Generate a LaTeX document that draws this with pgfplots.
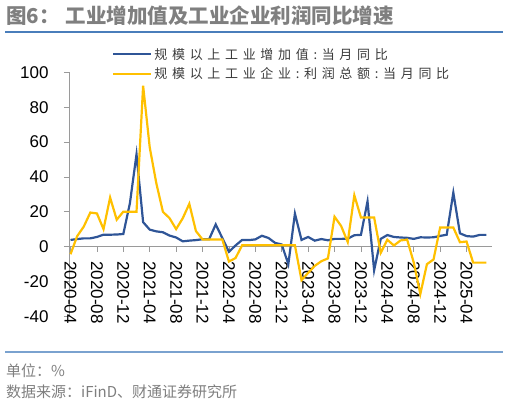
\documentclass[border=0pt]{standalone}
\usepackage{fontspec}
\setmainfont{Liberation Sans}
\newfontfamily\cjk{Noto Sans CJK SC}
\newfontfamily\cjkls[LetterSpace=36]{Noto Sans CJK SC}
\usepackage{pgfplots}
\usepackage{pgfplotstable}
\pgfplotsset{compat=1.18}

\definecolor{ivablue}{HTML}{2F5597}
\definecolor{profityellow}{HTML}{FFC000}
\definecolor{titlegray}{HTML}{7F7F7F}
\definecolor{ruleblue}{HTML}{4A7EBB}
\definecolor{footblue}{HTML}{7AA2CF}
\definecolor{axisgray}{HTML}{9A9A9A}
\definecolor{legendtext}{HTML}{3A3A3A}

% month index (0 = 2020-04), IVA yoy, profit yoy
\pgfplotstableread{
i   iva    profit
0   3.9    -4.3
1   4.4    6.0
2   4.8    11.5
3   4.8    19.6
4   5.6    19.1
5   6.9    10.1
6   6.9    28.2
7   7.0    15.5
8   7.3    20.1
9   25.0   20.1
10  53.0   20.1
11  14.1   92.3
12  9.8    57.0
13  8.8    36.4
14  8.3    20.0
15  6.4    16.4
16  5.3    10.1
17  3.1    16.3
18  3.5    24.6
19  3.8    9.0
20  4.3    4.2
21  4.3    4.2
22  12.8   4.2
23  5.0    4.2
24  -2.9   -8.5
25  0.7    -6.5
26  3.9    0.8
27  3.8    0.8
28  4.2    0.8
29  6.3    0.8
30  5.0    0.8
31  2.2    0.8
32  1.3    0.8
33  -10.0  0.8
34  19.0   0.8
35  3.9    -19.2
36  5.6    -15.0
37  3.5    -11.0
38  4.4    -8.3
39  3.7    -6.7
40  4.5    17.2
41  4.5    11.9
42  4.6    2.7
43  6.6    29.5
44  6.8    16.8
45  26.0   16.8
46  -13.5  16.8
47  4.5    -3.5
48  6.7    4.0
49  5.6    0.7
50  5.3    3.6
51  5.1    4.1
52  4.5    -9.0
53  5.4    -27.1
54  5.3    -10.0
55  5.4    -7.3
56  6.2    11.0
57  6.9    11.0
58  31.0   11.0
59  7.7    2.6
60  6.1    3.0
61  5.8    -9.1
62  6.8    -9.1
63  6.8    -9.1
}\datatable

\begin{document}
\begin{tikzpicture}
\path (0,0) rectangle (509bp,-404bp);

\begin{axis}[
    at={(69bp,-316.5bp)}, anchor=south west,
    scale only axis,
    width=423bp, height=244.2bp,
    xmin=-0.23, xmax=63.86,
    ymin=-40, ymax=100,
    axis x line=middle, axis y line=left,
    axis line style={-, draw=axisgray, line width=0.8bp},
    hide obscured x ticks=false, hide obscured y ticks=false,
    tick align=outside,
    major tick length=5bp,
    tick style={draw=axisgray, line width=0.8bp},
    xtick={0,4,...,60},
    xticklabels={2020-04,2020-08,2020-12,2021-04,2021-08,2021-12,2022-04,2022-08,2022-12,2023-04,2023-08,2023-12,2024-04,2024-08,2024-12,2025-04},
    ytick={-40,-20,...,100},
    /pgf/number format/assume math mode=true,
    ticklabel style={font=\fontsize{17bp}{20bp}\selectfont, text=black},
    xticklabel style={rotate=-90, anchor=west},
    xticklabel shift=6bp,
    yticklabel style={xshift=-12bp},
    legend style={at={(axis description cs:0.1017,1.108)}, anchor=north west,
        draw=none, fill=none, inner sep=0pt, row sep=3bp,
        font=\fontsize{13bp}{15bp}\selectfont\cjkls, text=legendtext,
        cells={anchor=west}},
    legend image code/.code={\draw[#1] (0bp,0bp) -- (38bp,0bp);},
    clip=false,
]
\addplot[color=ivablue, line width=2.2bp] table[x=i, y=iva] {\datatable};
\addlegendentry{规模以上工业增加值:当月同比}
\addplot[color=profityellow, line width=2.2bp] table[x=i, y=profit] {\datatable};
\addlegendentry{规模以上工业企业:利润总额:当月同比}
\end{axis}

\node[anchor=west, inner sep=0pt, text=titlegray] at (6bp,-16bp)
    {\cjk\bfseries\fontsize{20.5bp}{24bp}\selectfont 图6：\hspace{6bp}工业增加值及工业企业利润同比增速};
\draw[ruleblue, line width=1.2bp] (5bp,-32bp) -- (503bp,-32bp);
\draw[footblue, line width=1.5bp] (5bp,-352bp) -- (503bp,-352bp);
\node[anchor=west, inner sep=0pt, text=titlegray] at (6bp,-371bp)
    {\cjk\fontsize{15bp}{18bp}\selectfont 单位：\%};
\node[anchor=west, inner sep=0pt, text=titlegray] at (6bp,-392bp)
    {\cjk\fontsize{15bp}{18bp}\selectfont 数据来源：iFinD、财通证券研究所};
\end{tikzpicture}
\end{document}
